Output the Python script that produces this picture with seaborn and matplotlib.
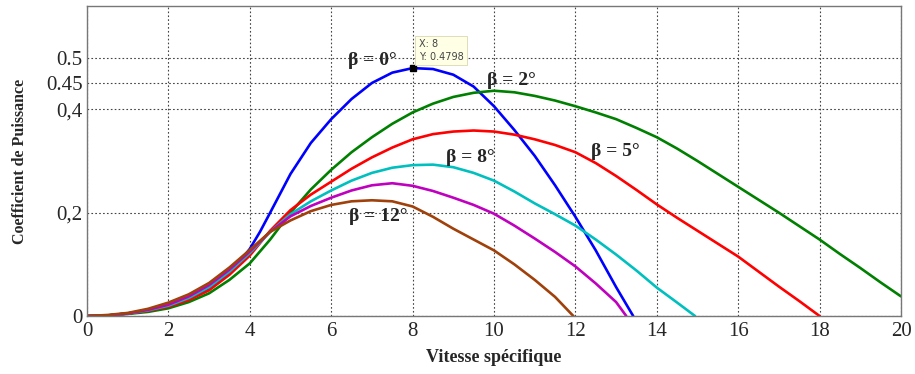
import matplotlib
matplotlib.use("Agg")
import matplotlib.pyplot as plt
import seaborn as sns
import pandas as pd

# ---- data ----
x_b0 = [0, 0.5, 1, 1.5, 2, 2.5, 3, 3.5, 3.8, 4, 4.25, 4.5, 5, 5.5, 6, 6.5, 7, 7.5, 8,
        8.5, 9, 9.5, 10, 10.5, 11, 11.5, 12, 12.5, 13, 13.42]
y_b0 = [0, 0.001, 0.005, 0.01, 0.02, 0.034, 0.054, 0.085, 0.11, 0.13, 0.163, 0.2, 0.275,
        0.335, 0.381, 0.42, 0.451, 0.471, 0.4798, 0.478, 0.467, 0.444, 0.406, 0.36, 0.31,
        0.253, 0.192, 0.127, 0.056, 0]

x_b2 = [0, 0.5, 1, 1.5, 2, 2.5, 3, 3.5, 4, 4.5, 5, 5.5, 6, 6.5, 7, 7.5, 8, 8.5, 9, 9.5,
        10, 10.5, 11, 11.5, 12, 12.5, 13, 13.5, 14, 14.5, 15, 15.5, 16, 16.5, 17, 17.5,
        18, 18.5, 19, 19.5, 20]
y_b2 = [0, 0.001, 0.004, 0.008, 0.015, 0.027, 0.044, 0.07, 0.102, 0.148, 0.2, 0.245,
        0.283, 0.317, 0.346, 0.372, 0.394, 0.411, 0.424, 0.432, 0.436, 0.433, 0.426,
        0.417, 0.406, 0.394, 0.381, 0.364, 0.346, 0.324, 0.3, 0.275, 0.25, 0.225, 0.2,
        0.174, 0.148, 0.12, 0.093, 0.065, 0.038]

x_b5 = [0, 0.5, 1, 1.5, 2, 2.5, 3, 3.5, 4, 4.5, 5, 5.5, 6, 6.5, 7, 7.5, 8, 8.5, 9, 9.5,
        10, 10.5, 11, 11.5, 12, 12.5, 13, 13.5, 14, 14.5, 15, 15.5, 16, 16.5, 17, 17.5, 18]
y_b5 = [0, 0.001, 0.005, 0.01, 0.018, 0.031, 0.05, 0.08, 0.117, 0.165, 0.205, 0.235,
        0.26, 0.285, 0.307, 0.326, 0.342, 0.352, 0.357, 0.359, 0.357, 0.351, 0.342,
        0.331, 0.317, 0.296, 0.271, 0.244, 0.216, 0.19, 0.165, 0.14, 0.115, 0.086,
        0.057, 0.029, 0]

x_b8 = [0, 0.5, 1, 1.5, 2, 2.5, 3, 3.5, 4, 4.5, 5, 5.5, 6, 6.5, 7, 7.5, 8, 8.5, 9, 9.5,
        10, 10.5, 11, 11.5, 12, 12.5, 13, 13.5, 14, 14.5, 14.94]
y_b8 = [0, 0.001, 0.005, 0.011, 0.02, 0.035, 0.056, 0.086, 0.122, 0.163, 0.197, 0.222,
        0.243, 0.262, 0.277, 0.287, 0.292, 0.293, 0.288, 0.277, 0.262, 0.241, 0.218,
        0.197, 0.175, 0.148, 0.119, 0.088, 0.055, 0.026, 0]

x_b10 = [0, 0.5, 1, 1.5, 2, 2.5, 3, 3.5, 4, 4.5, 5, 5.5, 6, 6.5, 7, 7.5, 8, 8.5, 9, 9.5,
         10, 10.5, 11, 11.5, 12, 12.5, 13, 13.25]
y_b10 = [0, 0.001, 0.005, 0.012, 0.022, 0.038, 0.06, 0.09, 0.125, 0.163, 0.193, 0.213,
         0.229, 0.243, 0.253, 0.257, 0.252, 0.242, 0.229, 0.215, 0.198, 0.175, 0.15,
         0.124, 0.096, 0.063, 0.027, 0]

x_b12 = [0, 0.5, 1, 1.5, 2, 2.5, 3, 3.5, 4, 4.5, 5, 5.5, 6, 6.5, 7, 7.5, 8, 8.5, 9, 9.5,
         10, 10.5, 11, 11.5, 11.95]
y_b12 = [0, 0.002, 0.006, 0.014, 0.026, 0.042, 0.064, 0.094, 0.128, 0.163, 0.185, 0.203,
         0.215, 0.222, 0.224, 0.222, 0.212, 0.192, 0.169, 0.148, 0.127, 0.1, 0.07, 0.037, 0]

series = [
    ("b0", x_b0, y_b0, "#0000ff"),
    ("b2", x_b2, y_b2, "#008000"),
    ("b5", x_b5, y_b5, "#ff0000"),
    ("b8", x_b8, y_b8, "#00bfbf"),
    ("b10", x_b10, y_b10, "#bf00bf"),
    ("b12", x_b12, y_b12, "#a0400a"),
]

labels = ["β = 0°", "β = 2°", "β = 8°", "β = 5°", "β = 12°"]
label_x = [7.0, 10.42, 9.43, 12.97, 7.15]
label_y = [0.494, 0.456, 0.307, 0.318, 0.192]

xticks = [0, 2, 4, 6, 8, 10, 12, 14, 16, 18, 20]
yticks = [0, 0.2, 0.4, 0.45, 0.5]
ytick_labels = ["0", "0,2", "0,4", "0.45", "0.5"]

tip_x, tip_y = 8, 0.4798

# ---- plotting ----
sns.set_style("white")
plt.rcParams['font.family'] = ['Liberation Serif', 'DejaVu Serif']

fig = plt.figure(figsize=(9.15, 3.74), dpi=100)
ax = fig.add_axes([0.0951, 0.155, 0.8896, 0.829])

rows = []
for name, xs, ys, col in series:
    for a, b in zip(xs, ys):
        rows.append({"lam": a, "cp": b, "s": name})
df = pd.DataFrame(rows)
palette = {name: col for name, _, _, col in series}
sns.lineplot(data=df, x="lam", y="cp", hue="s", palette=palette, sort=False,
             estimator=None, linewidth=1.9, legend=False, ax=ax)

ax.set_xlim(0, 20)
ax.set_ylim(0, 0.6)
ax.set_xticks(xticks)
ax.set_xticklabels([str(t) for t in xticks], fontsize=15)
ax.set_yticks(yticks)
ax.set_yticklabels(ytick_labels, fontsize=15)
ax.tick_params(direction="in", length=4, color="#555555")
ax.tick_params(axis="x", pad=4)
ax.tick_params(axis="y", pad=3)
ax.grid(True, linestyle=(0, (1.5, 2)), color="#444444", linewidth=0.8)
for sp in ax.spines.values():
    sp.set_color("#777777")
    sp.set_linewidth(1.0)

ax.set_xlabel("Vitesse spécifique", fontsize=13, fontweight="bold", labelpad=6)
ax.set_ylabel("Coefficient de Puissance", fontsize=11.5, fontweight="bold", labelpad=13)

for t, lx, ly in zip(labels, label_x, label_y):
    ax.text(lx, ly, t, fontsize=14, fontweight="bold", ha="center", va="center")

# data tip
ax.plot([tip_x], [tip_y], marker="s", color="black", markersize=5, zorder=5)
ax.text(tip_x + 0.15, tip_y + 0.034, f"X: {tip_x}\nY: {tip_y}", fontsize=7,
        family="DejaVu Sans", color="#444444", va="center", ha="left", linespacing=1.3,
        bbox=dict(boxstyle="square,pad=0.35", fc="#ffffe6", ec="#d8d8b0", lw=0.6), zorder=6)

fig.savefig("out.png", dpi=100)
